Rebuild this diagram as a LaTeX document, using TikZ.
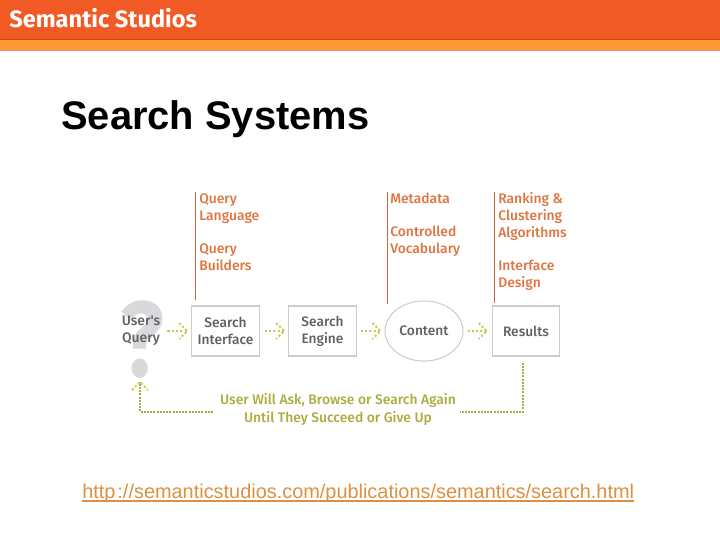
\documentclass[tikz,border=0pt]{standalone}
\usepackage{xcolor}
\usepackage{fontspec}
\setmainfont{Liberation Sans}
\newfontfamily\labelfont[BoldFont={Fira Sans Medium}]{Fira Sans}
\newfontfamily\brandfont{Fira Sans}
\usetikzlibrary{arrows.meta,positioning,shapes}
\definecolor{barorange}{HTML}{F15A24}
\definecolor{stripeorange}{HTML}{FF9933}
\definecolor{labelorange}{HTML}{DE7440}
\definecolor{ruleorange}{HTML}{C9683C}
\definecolor{linkorange}{HTML}{DC9040}
\definecolor{loopolive}{HTML}{A9AC3C}
\definecolor{dotyellow}{HTML}{C8CA50}
\definecolor{boxgrey}{HTML}{CCCCCC}
\definecolor{textgrey}{HTML}{5F5F66}
\definecolor{markgrey}{HTML}{D9D9DB}

\begin{document}
\begin{tikzpicture}[x=0.75pt,y=-0.75pt,
  stagebox/.style={draw=boxgrey,line width=0.8pt,minimum width=50.5pt,minimum height=37.5pt,
    inner sep=0pt,align=center,text=textgrey,font=\labelfont\fontsize{10.3}{12.75}\selectfont\bfseries},
  stageoval/.style={stagebox,ellipse,minimum width=58.5pt,minimum height=45pt},
  notes/.style={anchor=north west,inner sep=0pt,align=left,text=labelorange,
    font=\labelfont\fontsize{10.4}{12.75}\selectfont\bfseries},
  notebar/.style={ruleorange,line width=0.7pt},
  arr/.style={dotyellow,line width=1.4pt,dash pattern=on 1.6pt off 1.6pt},
  looparr/.style={loopolive,line width=1.2pt,dash pattern=on 1.5pt off 0.9pt},
  chev/.pic={\draw[arr] (-8,-8) -- (0,0) -- (-8,8);}]

\useasboundingbox (0,0) rectangle (720,540);

% ---- header band ---------------------------------------------------------
\fill[barorange] (0,0) rectangle (720,39);
\fill[stripeorange] (0,39) rectangle (720,50);
\draw[barorange!85!black,line width=0.5pt] (0,39) -- (720,39);
\draw[ruleorange!70,line width=0.5pt] (0,50.5) -- (720,50.5);
\node[anchor=base west,inner sep=0pt,text=white,font=\brandfont\fontsize{17.7}{20}\selectfont\bfseries]
  (brand) at (9,27) {Semantic Studios};
\node[anchor=base west,inner sep=0pt,font=\fontsize{29.9}{34}\selectfont\bfseries]
  (title) at (61,129) {Search Systems};

% ---- the chain, left to right --------------------------------------------
\node[inner sep=0pt,xscale=0.85,text=markgrey,font=\brandfont\fontsize{80}{80}\selectfont\bfseries] (mark) at (142,340) {?};
\node[inner sep=0pt,align=center,text=textgrey,font=\labelfont\fontsize{10.4}{12.75}\selectfont\bfseries]
  (query) at (141,331) {User's\\Query};
\node[stagebox]  (iface)   at (225.5,331) {Search\\Interface};
\node[stagebox]  (engine)  at (322.5,331) {Search\\Engine};
\node[stageoval] (content) at (424,331) {Content};
\node[stagebox]  (results) at (526,331) {Results};

\draw[arr] ([xshift=5.25pt]query.east|-iface.west) -- ([xshift=-3pt]iface.west);
\draw[arr] ([xshift=3.75pt]iface.east) -- ([xshift=-3pt]engine.west);
\draw[arr] ([xshift=3pt]engine.east) -- ([xshift=-3pt]content.west);
\draw[arr] ([xshift=3pt]content.east) -- ([xshift=-3.75pt]results.west);
\pic at ([xshift=-3pt]iface.west) {chev};
\pic at ([xshift=-3pt]engine.west) {chev};
\pic at ([xshift=-3pt]content.west) {chev};
\pic at ([xshift=-3.75pt]results.west) {chev};

% ---- what each stage depends on ------------------------------------------
\coordinate (bar1) at (195,192);
\coordinate (bar2) at (387,192);
\coordinate (bar3) at (494,192);
\draw[notebar] (bar1) -- (195,300);
\draw[notebar] (bar2) -- (387,304);
\draw[notebar] (bar3) -- (494,303);
\node[notes] (notes1) at (199,193.5) {Query\\Language\\[12pt]Query\\Builders};
\node[notes] (notes2) at (390,192.75) {Metadata\\[12pt]Controlled\\Vocabulary};
\node[notes] (notes3) at (498,192) {Ranking \&\\Clustering\\Algorithms\\[12pt]Interface\\Design};

% ---- the way back ---------------------------------------------------------
\node[inner xsep=3pt,inner ysep=0pt,align=center,text=loopolive,font=\labelfont\fontsize{10.4}{13.5}\selectfont\bfseries]
  (again) at (338,409) {User Will Ask, Browse or Search Again\\Until They Succeed or Give Up};
\coordinate (backend) at (140,382);
\draw[looparr] ([yshift=-4.5pt]results.south-|523,0) |- ([yshift=-2.25pt]again.east);
\draw[looparr] ([xshift=-2.25pt,yshift=-2.25pt]again.west) -| (backend);
\pic[rotate=90] at (backend) {chev};

% ---- source ---------------------------------------------------------------
\node[anchor=base west,inner sep=0pt,text=linkorange,font=\fontsize{14.93}{16}\selectfont]
  (source) at (82,498) {http\kern1.5pt://semanticstudios.com/publications/semantics/search.html};
\draw[linkorange,line width=0.9pt] ([yshift=-2.25pt]source.base west) -- ([yshift=-2.25pt]source.base east);
\end{tikzpicture}
\end{document}
